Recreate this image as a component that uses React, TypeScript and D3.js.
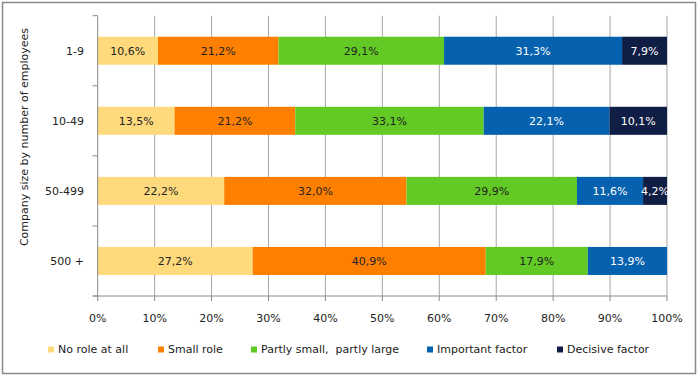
import React from "react";
import * as d3 from "d3";

const categories = ["1-9", "10-49", "50-499", "500 +"];
const seriesNames = ["No role at all", "Small role", "Partly small,  partly large", "Important factor", "Decisive factor"];
const noRole = [10.6, 13.5, 22.2, 27.2];
const smallRole = [21.2, 21.2, 32.0, 40.9];
const partly = [29.1, 33.1, 29.9, 17.9];
const important = [31.3, 22.1, 11.6, 13.9];
const decisive = [7.9, 10.1, 4.2, 0];
const xTicks = [0, 10, 20, 30, 40, 50, 60, 70, 80, 90, 100];
const yTitle = "Company size by number of employees";

const colors = ["#FFDA7C", "#FF8000", "#63C924", "#0662AE", "#101E45"];
const labelColors = ["#222", "#222", "#222", "#fff", "#fff"];
const legendX = [48, 158, 251, 427, 557];

const W = 700, H = 376;
const left = 97.7, right = 667, top = 15.7, bottom = 296;
const FONT = "DejaVu Sans, Verdana, sans-serif";

export default function App() {
  const series = [noRole, smallRole, partly, important, decisive];
  const x = d3.scaleLinear().domain([0, 100]).range([left, right]);
  const y = d3.scaleBand<string>().domain(categories).range([top, bottom]).paddingInner(0.6).paddingOuter(0.3);
  const step = y.step();
  const fmt = (v: number) => v.toFixed(1).replace(".", ",") + "%";

  const rows = categories.map((c, i) => {
    const vals = series.map((s) => s[i]);
    const sum = d3.sum(vals);
    let acc = 0;
    return vals.map((v, k) => {
      const x0 = (acc / sum) * 100;
      acc += v;
      const x1 = (acc / sum) * 100;
      return { cat: c, k, v, x0, x1 };
    });
  });

  return (
    <svg width={W} height={H} style={{ position: "absolute", left: 0, top: 0, fontFamily: FONT }}>
      <rect x={0} y={0} width={W} height={H} fill="#fff" />
      <rect x={2.5} y={2.5} width={693} height={371} fill="#fff" stroke="#8a8a8a" strokeWidth={1.5} />
      {/* gridlines */}
      {xTicks.slice(1).map((t) => (
        <line key={"g" + t} x1={x(t)} x2={x(t)} y1={top} y2={bottom} stroke="#a6a6a6" strokeWidth={1} />
      ))}
      {/* bars */}
      {rows.map((r) =>
        r.filter((s) => s.v > 0).map((s) => (
          <rect key={s.cat + s.k} x={x(s.x0)} y={y(s.cat)!} width={x(s.x1) - x(s.x0)} height={y.bandwidth()} fill={colors[s.k]} />
        ))
      )}
      {rows.map((r) =>
        r.filter((s) => s.v > 0).map((s) => (
          <text key={"l" + s.cat + s.k} x={(x(s.x0) + x(s.x1)) / 2} y={y(s.cat)! + y.bandwidth() / 2} dy="0.35em"
            textAnchor="middle" fontSize={11} fill={labelColors[s.k]}>{fmt(s.v)}</text>
        ))
      )}
      {/* y axis */}
      <line x1={left} x2={left} y1={top} y2={bottom} stroke="#8a8a8a" />
      {d3.range(categories.length + 1).map((i) => (
        <line key={"yt" + i} x1={left - 5} x2={left} y1={top + i * step} y2={top + i * step} stroke="#8a8a8a" />
      ))}
      {categories.map((c) => (
        <text key={"c" + c} x={84} y={y(c)! + y.bandwidth() / 2} dy="0.35em" textAnchor="end" fontSize={11} fill="#222">{c}</text>
      ))}
      {/* x axis */}
      <line x1={left - 5} x2={right} y1={bottom} y2={bottom} stroke="#8a8a8a" />
      {xTicks.map((t) => (
        <g key={"xt" + t}>
          <line x1={x(t)} x2={x(t)} y1={bottom} y2={bottom + 5} stroke="#8a8a8a" />
          <text x={x(t)} y={318.5} dy="0.35em" textAnchor="middle" fontSize={11} fill="#222">{t + "%"}</text>
        </g>
      ))}
      <text transform={`translate(24,137) rotate(-90)`} dy="0.35em" textAnchor="middle" fontSize={11} fill="#222">{yTitle}</text>
      {/* legend */}
      {seriesNames.map((n, i) => (
        <g key={"lg" + i}>
          <rect x={legendX[i]} y={346.5} width={6} height={6} fill={colors[i]} />
          <text x={legendX[i] + 10} y={349.5} dy="0.35em" fontSize={11} fill="#222" style={{ whiteSpace: "pre" }}>{n}</text>
        </g>
      ))}
    </svg>
  );
}
